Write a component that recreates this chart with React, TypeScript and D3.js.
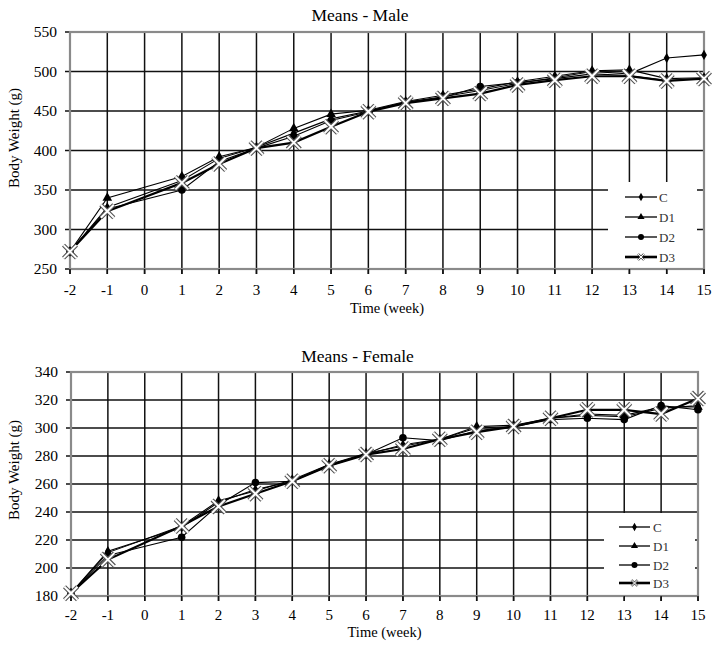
import React from "react";
import * as d3 from "d3";

const weeks = [-2, -1, 1, 2, 3, 4, 5, 6, 7, 8, 9, 10, 11, 12, 13, 14, 15];
const xTicks = [-2, -1, 0, 1, 2, 3, 4, 5, 6, 7, 8, 9, 10, 11, 12, 13, 14, 15];
const seriesNames = ["C", "D1", "D2", "D3"];

const maleC = [272, 328, 362, 390, 404, 422, 440, 450, 461, 468, 476, 485, 492, 500, 497, 517, 521];
const maleD1 = [272, 340, 367, 392, 404, 428, 446, 451, 462, 470, 478, 487, 494, 501, 502, 491, 492];
const maleD2 = [272, 326, 350, 386, 403, 418, 438, 449, 461, 467, 481, 486, 491, 497, 495, 489, 491];
const maleD3 = [272, 323, 359, 383, 403, 410, 430, 449, 460, 466, 472, 483, 489, 494, 494, 488, 491];
const maleYTicks = [250, 300, 350, 400, 450, 500, 550];

const femaleC = [182, 212, 229, 247, 256, 262, 274, 281, 288, 292, 300, 301, 307, 309, 308, 314, 316];
const femaleD1 = [182, 211, 230, 248, 255, 263, 274, 282, 287, 292, 301, 302, 307, 310, 309, 315, 315];
const femaleD2 = [182, 209, 222, 245, 261, 262, 273, 281, 293, 291, 298, 301, 306, 307, 306, 316, 313];
const femaleD3 = [182, 206, 230, 244, 253, 262, 273, 281, 285, 292, 297, 301, 307, 313, 313, 310, 321];
const femaleYTicks = [180, 200, 220, 240, 260, 280, 300, 320, 340];

const FONT = "'Liberation Serif', 'Times New Roman', serif";

type Layout = {
  left: number; right: number; top: number; bottom: number;
  titleY: number; xLabelY: number; tickLabelY: number; yLabelCY: number;
  legX: number; legW: number; legTop: number; legRows: number[]; legLine: [number, number]; legText: number;
};

function Marker({ name, x, y }: { name: string; x: number; y: number }) {
  if (name === "C") {
    const p = d3.symbol(d3.symbolDiamond, 30)()!;
    return <path d={p} transform={`translate(${x},${y})`} fill="#000" />;
  }
  if (name === "D1") {
    const p = d3.symbol(d3.symbolTriangle, 40)()!;
    return <path d={p} transform={`translate(${x},${y})`} fill="#000" />;
  }
  if (name === "D2") {
    return <circle cx={x} cy={y} r={3.8} fill="#000" />;
  }
  const s = 6.5;
  const p = `M${-s},${-s}L${s},${s}M${-s},${s}L${s},${-s}`;
  return (
    <g transform={`translate(${x},${y})`}>
      <path d={p} stroke="#555" strokeWidth={4.2} fill="none" />
      <path d={p} stroke="#fff" strokeWidth={2} fill="none" />
    </g>
  );
}

function LegendMarker({ name, x, y }: { name: string; x: number; y: number }) {
  if (name === "C") {
    const p = d3.symbol(d3.symbolDiamond, 20)()!;
    return <path d={p} transform={`translate(${x},${y})`} fill="#000" />;
  }
  if (name === "D1") {
    const p = d3.symbol(d3.symbolTriangle, 22)()!;
    return <path d={p} transform={`translate(${x},${y})`} fill="#000" />;
  }
  if (name === "D2") return <circle cx={x} cy={y} r={3} fill="#000" />;
  const s = 3;
  const p = `M${-s},${-s}L${s},${s}M${-s},${s}L${s},${-s}`;
  return (
    <g transform={`translate(${x},${y})`}>
      <path d={p} stroke="#555" strokeWidth={2.4} fill="none" />
      <path d={p} stroke="#fff" strokeWidth={1} fill="none" />
    </g>
  );
}

function Chart({ title, data, yTicks, L }: { title: string; data: number[][]; yTicks: number[]; L: Layout }) {
  const x = d3.scaleLinear().domain([-2, 15]).range([L.left, L.right]);
  const y = d3.scaleLinear().domain([yTicks[0], yTicks[yTicks.length - 1]]).range([L.bottom, L.top]);
  const line = d3.line<number>().x((_, i) => x(weeks[i])).y((v) => y(v));
  const grid = "#111";
  const frame = "#8a8a8a";
  return (
    <g fontFamily={FONT}>
      <text x={(L.left + L.right) / 2 - 27} y={L.titleY} textAnchor="middle" fontSize={17.5}>{title}</text>
      {/* grid */}
      {xTicks.map((t) => (
        <line key={"gx" + t} x1={x(t)} x2={x(t)} y1={L.top} y2={L.bottom + 5} stroke={grid} strokeWidth={1.5} />
      ))}
      {yTicks.map((t) => (
        <line key={"gy" + t} x1={L.left - 5} x2={L.right} y1={y(t)} y2={y(t)} stroke={grid} strokeWidth={1.5} />
      ))}
      {/* legend box */}
      <rect x={L.legX} y={L.legTop} width={L.legW} height={L.bottom - L.legTop} fill="#fff" />
      {/* frame */}
      <rect x={L.left} y={L.top} width={L.right - L.left} height={L.bottom - L.top} fill="none" stroke={frame} strokeWidth={2.2} />
      {xTicks.map((t) => (
        <line key={"tx" + t} x1={x(t)} x2={x(t)} y1={L.bottom} y2={L.bottom + 5} stroke={grid} strokeWidth={1.5} />
      ))}
      {/* tick labels */}
      {xTicks.map((t) => (
        <text key={"lx" + t} x={x(t)} y={L.tickLabelY} textAnchor="middle" fontSize={15}>{t}</text>
      ))}
      {yTicks.map((t) => (
        <text key={"ly" + t} x={L.left - 13} y={y(t) + 5} textAnchor="end" fontSize={15.5}>{t}</text>
      ))}
      <text x={(L.left + L.right) / 2} y={L.xLabelY} textAnchor="middle" fontSize={14.5}>Time (week)</text>
      <text transform={`translate(19,${L.yLabelCY}) rotate(-90)`} textAnchor="middle" fontSize={15}>Body Weight (g)</text>
      {/* series */}
      {data.map((vals, si) => (
        <path key={"s" + si} d={line(vals)!} fill="none" stroke="#000" strokeWidth={si === 3 ? 2.2 : 1.1} />
      ))}
      {data.map((vals, si) =>
        vals.map((v, i) => <Marker key={"m" + si + "-" + i} name={seriesNames[si]} x={x(weeks[i])} y={y(v)} />)
      )}
      {/* legend */}
      {seriesNames.map((n, i) => (
        <g key={"leg" + n}>
          <line x1={L.legLine[0]} x2={L.legLine[1]} y1={L.legRows[i]} y2={L.legRows[i]} stroke="#000" strokeWidth={i === 3 ? 2.6 : 1.3} />
          <LegendMarker name={n} x={(L.legLine[0] + L.legLine[1]) / 2} y={L.legRows[i]} />
          <text x={L.legText} y={L.legRows[i] + 4.5} fontSize={13} fill="#333">{n}</text>
        </g>
      ))}
    </g>
  );
}

const maleLayout: Layout = {
  left: 70, right: 704, top: 32, bottom: 269,
  titleY: 21, xLabelY: 313, tickLabelY: 295, yLabelCY: 138,
  legX: 608, legW: 89, legTop: 182, legRows: [197, 217, 237, 257], legLine: [625, 657], legText: 659,
};
const femaleLayout: Layout = {
  left: 71, right: 698, top: 372, bottom: 596,
  titleY: 362, xLabelY: 637, tickLabelY: 620, yLabelCY: 470,
  legX: 604, legW: 91, legTop: 513, legRows: [527, 546, 565, 583], legLine: [619, 650], legText: 653,
};

export default function App() {
  return (
    <svg width={717} height={645} style={{ position: "absolute", left: 0, top: 0, background: "#fff" }}>
      <rect width={717} height={645} fill="#fff" />
      <Chart title="Means - Male" data={[maleC, maleD1, maleD2, maleD3]} yTicks={maleYTicks} L={maleLayout} />
      <Chart title="Means - Female" data={[femaleC, femaleD1, femaleD2, femaleD3]} yTicks={femaleYTicks} L={femaleLayout} />
    </svg>
  );
}
